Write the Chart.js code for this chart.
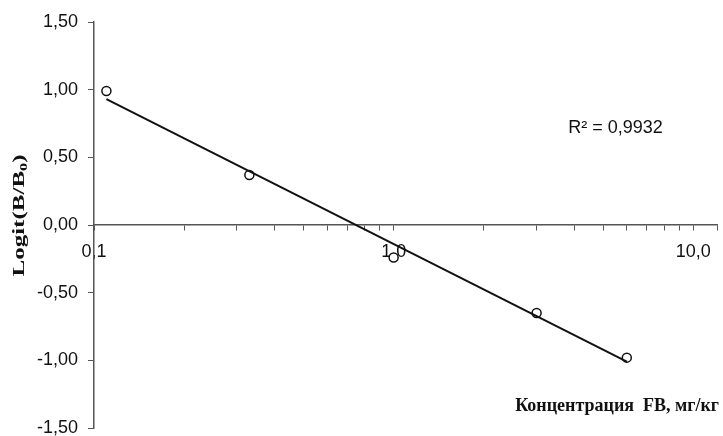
<!DOCTYPE html>
<html>
<head>
<meta charset="utf-8">
<script src="https://cdn.jsdelivr.net/npm/chart.js@4/dist/chart.umd.min.js"></script>
<style>
  html, body { margin: 0; padding: 0; background: #fff; }
  #wrap { width: 723px; height: 436px; }
</style>
</head>
<body>
<div id="wrap"><canvas id="chart"></canvas></div>
<script>
// Концентрация FB (мг/кг) и Logit(B/B0)
const concValues = [0.11, 0.33, 1.0, 3.0, 6.0];
const logitValues = [0.99, 0.37, -0.24, -0.65, -0.98];

// линия тренда (читается с картинки)
const trendX = [0.11, 6.0];
const trendY = [0.93, -1.01];

const xTickValues = [0.1, 0.2, 0.3, 0.4, 0.5, 0.6, 0.7, 0.8, 0.9, 1, 2, 3, 4, 5, 6, 7, 8, 9, 10, 12];
const xLabelValues = [0.1, 1, 10];
const xLabelTexts = ['0,1', '1,0', '10,0'];

const r2Label = 'R² = 0,9932';
const xTitle = 'Концентрация  FB, мг/кг';

const points = concValues.map((x, i) => ({ x: x, y: logitValues[i] }));
const trend = trendX.map((x, i) => ({ x: x, y: trendY[i] }));

const textPlugin = {
    id: 'textLabels',
    afterDraw(chart) {
        const { ctx, chartArea, scales } = chart;
        ctx.save();
        ctx.fillStyle = '#111';

        // R²
        ctx.font = '18px "Liberation Sans", Arial, sans-serif';
        ctx.textAlign = 'center';
        ctx.textBaseline = 'middle';
        ctx.fillText(r2Label, scales.x.getPixelForValue(5.5), scales.y.getPixelForValue(0.72));

        // подпись оси X внутри области графика
        ctx.font = 'bold 18px "Liberation Serif", "Times New Roman", serif';
        ctx.textAlign = 'right';
        ctx.fillText(xTitle, chartArea.right + 2, scales.y.getPixelForValue(-1.34));

        // подпись оси Y, повернутая и растянутая
        ctx.translate(20, scales.y.getPixelForValue(0.07));
        ctx.rotate(-Math.PI / 2);
        const big = 'bold 17px "Liberation Serif", "Times New Roman", serif';
        const small = 'bold 11px "Liberation Serif", "Times New Roman", serif';
        ctx.font = big;
        const w1 = ctx.measureText('Logit(B/B').width;
        const w3 = ctx.measureText(')').width;
        ctx.font = small;
        const w2 = ctx.measureText('0').width;
        const total = w1 + w2 + w3;
        ctx.scale(122 / total, 1);
        ctx.textAlign = 'left';
        let x = -total / 2;
        ctx.font = big;
        ctx.fillText('Logit(B/B', x, 0);
        x += w1;
        ctx.font = small;
        ctx.fillText('0', x, 4);
        x += w2;
        ctx.font = big;
        ctx.fillText(')', x, 0);
        ctx.restore();
    }
};

new Chart(document.getElementById('chart'), {
    type: 'scatter',
    data: {
        datasets: [
            {
                type: 'line', label: 'trend', data: trend,
                borderColor: '#111', borderWidth: 2, pointRadius: 0, fill: false, tension: 0
            },
            {
                label: 'data', data: points,
                borderColor: '#111', backgroundColor: '#fff', borderWidth: 1.5,
                pointRadius: 4.5, pointHoverRadius: 4.5
            }
        ]
    },
    options: {
        responsive: true, maintainAspectRatio: false, animation: false,
        layout: { padding: { top: 22, right: 4, bottom: 8, left: 0 } },
        plugins: { legend: { display: false }, tooltip: { enabled: false } },
        scales: {
            x: {
                type: 'logarithmic', min: 0.1, max: 12,
                position: { y: 0 },
                afterFit: (scale) => {
                    scale.height = 0;
                    scale.paddingLeft = 0;
                    scale.paddingRight = 0;
                },
                afterBuildTicks: (scale) => { scale.ticks = xTickValues.map(v => ({ value: v })); },
                grid: { drawOnChartArea: false, drawTicks: true, tickLength: 5, color: '#555' },
                border: { display: true, color: '#555', width: 1.5 },
                ticks: {
                    autoSkip: false, maxRotation: 0, padding: 11, color: '#111',
                    font: { family: '"Liberation Sans", Arial, sans-serif', size: 18 },
                    callback: (value) => {
                        const i = xLabelValues.findIndex(v => Math.abs(v - value) < 1e-9);
                        return i >= 0 ? xLabelTexts[i] : '';
                    }
                }
            },
            y: {
                min: -1.5, max: 1.5,
                afterFit: (scale) => {
                    scale.width = 94;
                    scale.paddingTop = 0;
                    scale.paddingBottom = 0;
                },
                grid: { drawOnChartArea: false, drawTicks: true, tickLength: 6, color: '#555' },
                border: { display: true, color: '#555', width: 1.5 },
                ticks: {
                    stepSize: 0.5, padding: 10, color: '#111',
                    font: { family: '"Liberation Sans", Arial, sans-serif', size: 18 },
                    callback: (value) => value.toFixed(2).replace('.', ',')
                }
            }
        }
    },
    plugins: [textPlugin]
});
</script>
</body>
</html>
